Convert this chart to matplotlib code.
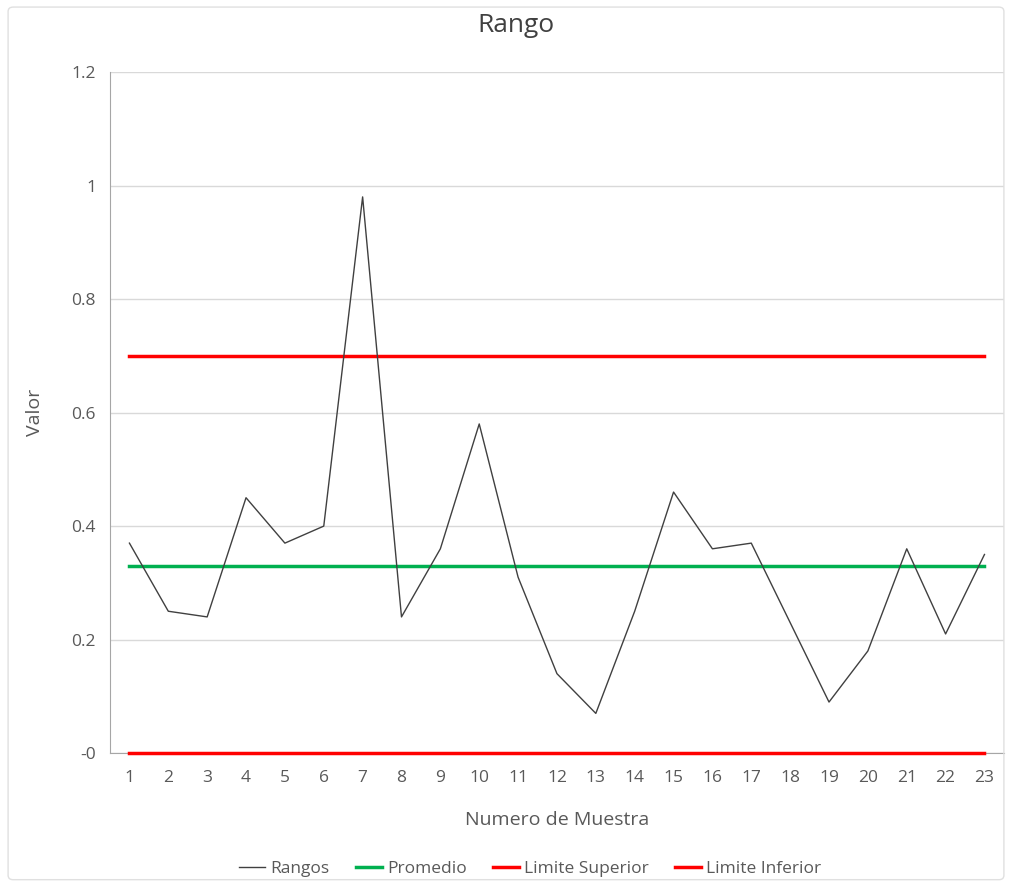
import matplotlib.pyplot as plt
from matplotlib.patches import FancyBboxPatch

plt.rcParams['font.family'] = ['Open Sans', 'DejaVu Sans']

muestras = list(range(1, 24))
rangos = [0.37, 0.25, 0.24, 0.45, 0.37, 0.40, 0.98, 0.24, 0.36, 0.58, 0.31, 0.14,
          0.07, 0.25, 0.46, 0.36, 0.37, 0.23, 0.09, 0.18, 0.36, 0.21, 0.35]
promedio = 0.33
lim_sup = 0.70
lim_inf = 0.0
yticks = [0, 0.2, 0.4, 0.6, 0.8, 1.0, 1.2]
ytick_labels = ['-0', '0.2', '0.4', '0.6', '0.8', '1', '1.2']

fig = plt.figure(figsize=(10.12, 8.85), dpi=100)
ax = fig.add_axes([0.1087, 0.149, 0.8833, 0.7696])

# borde del grafico
fig.patches.append(FancyBboxPatch((0.008, 0.006), 0.984, 0.986, boxstyle='round,pad=0,rounding_size=0.005',
                                  transform=fig.transFigure, fill=False, edgecolor='#e0e0e0', lw=1))

ax.plot(muestras, rangos, color='#404040', lw=1, label='Rangos', zorder=4)
ax.plot(muestras, [promedio] * len(muestras), color='#00b050', lw=2.5, label='Promedio', zorder=3)
ax.plot(muestras, [lim_sup] * len(muestras), color='#ff0000', lw=2.5, label='Limite Superior', zorder=3)
ax.plot(muestras, [lim_inf] * len(muestras), color='#ff0000', lw=2.5, label='Limite Inferior', zorder=5,
        clip_on=False)

ax.set_xlim(0.5, 23.5)
ax.set_ylim(0, 1.2)
ax.set_xticks(muestras)
ax.set_yticks(yticks)
ax.set_yticklabels(ytick_labels)
ax.grid(axis='y', color='#d9d9d9', lw=1)
ax.set_axisbelow(True)
for s in ['top', 'right']:
    ax.spines[s].set_visible(False)
ax.spines['left'].set_color('#a6a6a6')
ax.spines['bottom'].set_color('#a6a6a6')
ax.tick_params(axis='both', colors='#595959', labelsize=12.5, length=0)
ax.tick_params(axis='x', pad=12)
ax.tick_params(axis='y', pad=10)

fig.suptitle('Rango', x=0.51, y=0.985, fontsize=19, color='#404040', va='top')
ax.set_xlabel('Numero de Muestra', fontsize=14, color='#595959', labelpad=18)
ax.set_ylabel('Valor', fontsize=14, color='#595959', labelpad=20)

ax.legend(loc='center', bbox_to_anchor=(0.47, -0.17), ncol=4, frameon=False,
          fontsize=12.5, labelcolor='#595959', handlelength=1.5, handletextpad=0.3, columnspacing=1.5)

fig.savefig('out.png', dpi=100)
